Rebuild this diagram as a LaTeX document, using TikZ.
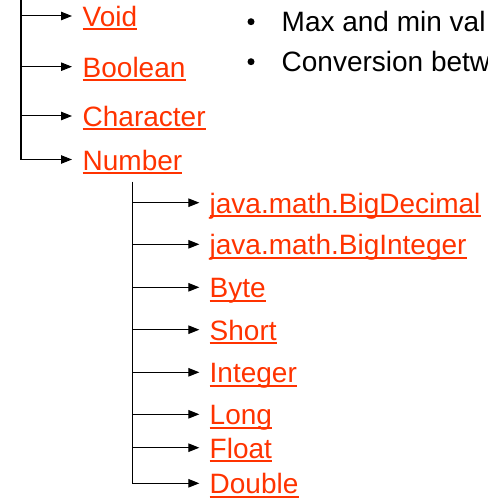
\documentclass[tikz,border=0pt]{standalone}
\usepackage{fontspec}
\setmainfont{Liberation Sans}
\usetikzlibrary{arrows.meta}
\definecolor{linkred}{RGB}{255,51,0}
\begin{document}
\begin{tikzpicture}[x=1pt,y=-1pt,
  link/.style={anchor=west, inner sep=0pt, text height=21pt, text depth=0pt,
    text=linkred, font=\fontsize{28}{30}\selectfont},
  trunk/.style={line width=1.3pt},
  branch/.style={line width=1pt, -{Triangle[length=11pt,width=8.5pt]}},
  uline/.style={draw=linkred, line width=2pt},
  note/.style={anchor=base west, inner sep=0pt, font=\fontsize{28}{30}\selectfont},
  dot/.style={circle, fill=black, inner sep=0pt, minimum size=7pt}]
\useasboundingbox (0,0) rectangle (487,500);
\clip (0,0) rectangle (487,500);
% first level
\node[link] (void) at (82.5,16) {Void};
\node[link] (boolean) at (82.5,66.7) {Boolean};
\node[link] (character) at (82.5,116) {Character};
\node[link] (number) at (82.5,159.5) {Number};
\coordinate (t0) at (21,0);
\coordinate (t1) at (21,160);
\draw[trunk] (t0) -- (t1);
\foreach \n in {void,boolean,character,number}
  \draw[branch] (t0 |- \n.west) -- ([xshift=-10.5pt]\n.west);
% second level
\node[link] (bigdec) at (209.5,202.7) {java.math.BigDecimal};
\node[link] (bigint) at (209.5,244.3) {java.math.BigInteger};
\node[link] (byte) at (209.5,287.3) {Byte};
\node[link] (short) at (209.5,329.7) {Short};
\node[link] (integer) at (209.5,372.3) {Integer};
\node[link] (long) at (209.5,414.3) {Long};
\node[link] (float) at (209.5,447.7) {Float};
\node[link] (double) at (209.5,483.3) {Double};
\coordinate (n0) at (132.7,181.7);
\coordinate (n1) at (132.7,483.8);
\draw[trunk] (n0) -- (n1);
\foreach \n in {bigdec,bigint,byte,short,integer,long,float,double}
  \draw[branch] (n0 |- \n.west) -- ([xshift=-10.2pt]\n.west);
% underlines
\foreach \n in {void,boolean,character,number,bigdec,bigint,byte,short,integer,long,float,double}
  \draw[uline] ([yshift=-2.7pt]\n.base west) -- ([yshift=-2.7pt]\n.base east);
% bullet notes
\node[dot] (b1) at (251,21.7) {};
\node[dot] (b2) at (251,61.7) {};
\node[note] (m1) at (281.5,31.7) {Max and min val};
\node[note] (m2) at (281.5,71.7) {Conversion betw};
\end{tikzpicture}
\end{document}
